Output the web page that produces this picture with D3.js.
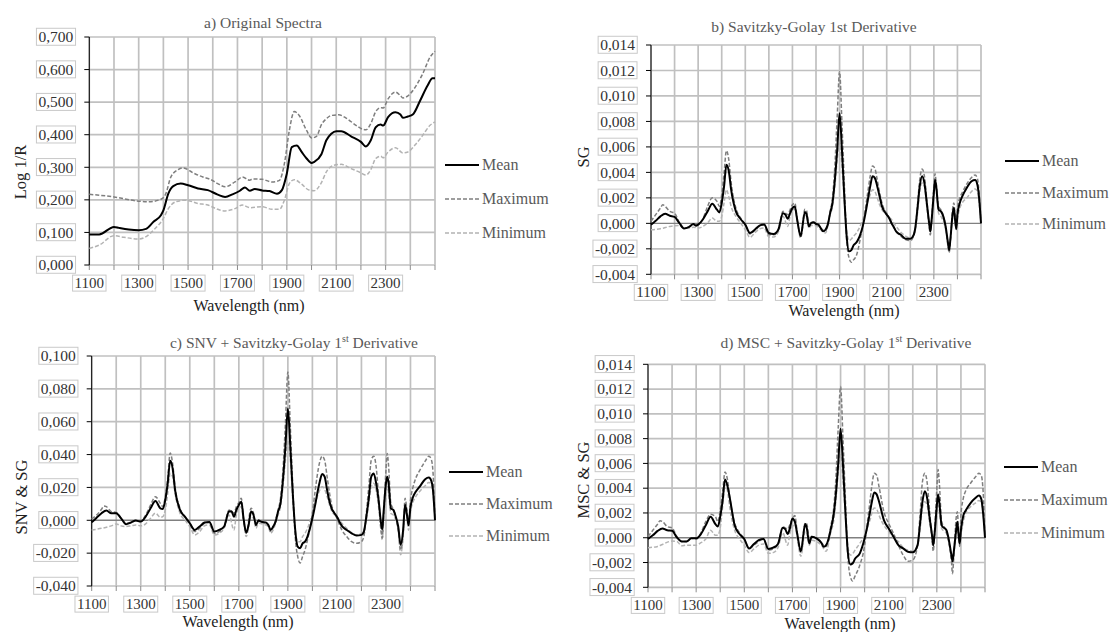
<!DOCTYPE html>
<html>
<head>
<meta charset="utf-8">
<script src="https://cdn.jsdelivr.net/npm/d3@7/dist/d3.min.js"></script>
<style>
  body { margin: 0; background: #fff; }
</style>
</head>
<body>
<div id="chart"></div>
<script>
// ---- data: [wavelength nm, value] ----
var gridNm = d3.range(1100, 2501, 100);
var xLabelNm = [1100, 1300, 1500, 1700, 1900, 2100, 2300];
var seriesNames = ["Mean", "Maximum", "Minimum"];

// a) Original spectra (log 1/R)
var aMean = [[1100,0.094],[1140,0.094],[1200,0.117],[1220,0.114],[1260,0.109],[1300,0.107],[1330,0.111],[1360,0.133],[1390,0.153],[1400,0.168],[1420,0.219],[1440,0.242],[1470,0.25],[1500,0.245],[1540,0.235],[1580,0.23],[1620,0.216],[1650,0.209],[1680,0.217],[1710,0.228],[1730,0.238],[1750,0.228],[1770,0.233],[1800,0.229],[1830,0.227],[1860,0.219],[1880,0.23],[1900,0.281],[1920,0.362],[1940,0.367],[1960,0.347],[1980,0.327],[2000,0.313],[2010,0.316],[2040,0.34],[2060,0.383],[2080,0.403],[2100,0.411],[2120,0.411],[2160,0.395],[2200,0.378],[2220,0.364],[2240,0.383],[2260,0.423],[2280,0.431],[2290,0.428],[2310,0.454],[2340,0.469],[2360,0.462],[2370,0.452],[2390,0.456],[2410,0.462],[2440,0.505],[2470,0.551],[2490,0.573],[2500,0.573]];
var aMax = [[1100,0.217],[1200,0.209],[1300,0.196],[1340,0.194],[1390,0.202],[1410,0.219],[1430,0.27],[1460,0.293],[1480,0.298],[1520,0.283],[1560,0.27],[1590,0.263],[1620,0.25],[1650,0.24],[1690,0.255],[1720,0.27],[1750,0.26],[1760,0.264],[1800,0.263],[1840,0.255],[1870,0.26],[1890,0.311],[1910,0.413],[1930,0.471],[1950,0.459],[1980,0.413],[2000,0.39],[2020,0.395],[2040,0.431],[2060,0.449],[2080,0.459],[2110,0.461],[2140,0.451],[2180,0.429],[2210,0.416],[2220,0.415],[2240,0.434],[2260,0.471],[2280,0.483],[2290,0.482],[2310,0.51],[2340,0.531],[2360,0.52],[2370,0.513],[2400,0.526],[2420,0.546],[2450,0.587],[2480,0.638],[2500,0.656]];
var aMin = [[1100,0.051],[1140,0.061],[1200,0.09],[1240,0.085],[1300,0.08],[1330,0.087],[1360,0.107],[1400,0.143],[1420,0.173],[1450,0.194],[1490,0.199],[1540,0.189],[1580,0.184],[1620,0.171],[1650,0.166],[1690,0.173],[1720,0.184],[1750,0.176],[1800,0.179],[1840,0.171],[1870,0.171],[1890,0.199],[1910,0.25],[1930,0.262],[1960,0.248],[1990,0.23],[2010,0.228],[2040,0.253],[2060,0.286],[2090,0.306],[2120,0.309],[2160,0.296],[2200,0.283],[2220,0.276],[2240,0.293],[2260,0.327],[2280,0.334],[2290,0.329],[2310,0.347],[2340,0.36],[2370,0.344],[2390,0.347],[2420,0.369],[2450,0.398],[2480,0.429],[2500,0.439]];

// b) Savitzky-Golay 1st derivative
var bMean = [[1100,-0.0001],[1120,0.0002],[1140,0.00055],[1160,0.00076],[1180,0.0006],[1200,0.0005],[1220,0.00003],[1240,-0.0004],[1260,-0.0003],[1280,-0.00005],[1290,-0.00018],[1300,-0.0001],[1320,0.0003],[1340,0.00094],[1360,0.00154],[1380,0.00107],[1390,0.00086],[1400,0.0016],[1410,0.0029],[1420,0.0046],[1430,0.0041],[1440,0.00264],[1460,0.00094],[1480,0.00034],[1500,-0.0001],[1520,-0.00076],[1540,-0.0005],[1560,-0.00018],[1580,-0.0001],[1600,-0.00076],[1620,-0.00084],[1640,-0.0005],[1660,0.0008],[1670,0.00068],[1680,0.00037],[1690,0.0008],[1700,0.0012],[1710,0.00133],[1720,0.0003],[1735,-0.001],[1753,0.0009],[1760,0.0007],[1770,-0.00024],[1780,0.00003],[1790,0.00008],[1800,-0.00005],[1810,-0.0001],[1820,-0.00037],[1830,-0.00063],[1840,-0.0005],[1850,-0.0001],[1860,0.0008],[1870,0.0016],[1880,0.0034],[1890,0.0058],[1900,0.00865],[1910,0.0058],[1920,0.0021],[1930,-0.001],[1940,-0.0022],[1950,-0.0021],[1960,-0.0017],[1970,-0.00154],[1980,-0.00123],[1990,-0.00076],[2000,-0.0001],[2010,0.0008],[2020,0.00186],[2030,0.0029],[2040,0.0037],[2050,0.00355],[2060,0.0029],[2070,0.0021],[2080,0.00133],[2090,0.00094],[2100,0.00068],[2110,0.00042],[2120,0.00003],[2130,-0.0003],[2140,-0.00063],[2160,-0.0009],[2180,-0.0012],[2200,-0.0012],[2210,-0.00107],[2220,-0.0005],[2230,0.00107],[2240,0.0029],[2250,0.0037],[2260,0.00316],[2270,0.0016],[2280,0.00003],[2285,-0.00063],[2290,0.00016],[2300,0.0024],[2305,0.0034],[2310,0.0029],[2320,0.00107],[2330,0.00094],[2340,0.00055],[2350,-0.00024],[2360,-0.00154],[2365,-0.0021],[2370,-0.00128],[2380,0.0008],[2385,0.0012],[2390,0.0003],[2395,-0.00044],[2400,0.00068],[2410,0.0016],[2420,0.0021],[2440,0.0028],[2460,0.0033],[2475,0.0034],[2485,0.003],[2492,0.002],[2500,0]];
var bMax = [[1100,0.00016],[1120,0.00068],[1140,0.0012],[1150,0.00146],[1160,0.00133],[1180,0.00094],[1200,0.0008],[1220,0.00008],[1240,-0.00037],[1260,-0.0003],[1280,-0.00005],[1300,-0.0001],[1320,0.00034],[1340,0.00133],[1360,0.002],[1380,0.00172],[1390,0.00133],[1400,0.00225],[1410,0.00395],[1420,0.0057],[1430,0.005],[1440,0.0032],[1460,0.0012],[1480,0.00042],[1500,-0.0001],[1520,-0.00084],[1540,-0.00055],[1560,-0.00024],[1580,-0.0001],[1600,-0.0009],[1620,-0.0009],[1640,-0.0005],[1660,0.00094],[1680,0.00068],[1690,0.00107],[1700,0.00146],[1710,0.0016],[1720,0.00042],[1735,-0.00115],[1753,0.0011],[1760,0.001],[1770,-0.0001],[1780,0.00008],[1800,0.00003],[1820,-0.00037],[1840,-0.00063],[1850,-0.0001],[1860,0.00094],[1870,0.002],[1880,0.0045],[1890,0.0084],[1900,0.0119],[1910,0.0079],[1920,0.0032],[1930,-0.00128],[1940,-0.0027],[1950,-0.00306],[1960,-0.00285],[1970,-0.0026],[1980,-0.00193],[1990,-0.001],[2000,-0.0001],[2010,0.0012],[2020,0.0025],[2030,0.0037],[2040,0.0045],[2050,0.0043],[2060,0.0034],[2070,0.0024],[2080,0.0016],[2090,0.00107],[2100,0.0008],[2120,0.00008],[2140,-0.00063],[2160,-0.001],[2180,-0.00128],[2200,-0.00136],[2220,-0.00063],[2230,0.00133],[2240,0.0034],[2250,0.00426],[2260,0.0037],[2270,0.00186],[2280,-0.0001],[2285,-0.0009],[2290,0.00016],[2300,0.0029],[2305,0.0039],[2310,0.00316],[2320,0.00133],[2330,0.00107],[2340,0.0006],[2350,-0.00037],[2360,-0.0018],[2365,-0.0023],[2370,-0.0014],[2380,0.0012],[2385,0.0016],[2390,0.00055],[2395,-0.00037],[2400,0.0012],[2410,0.002],[2420,0.0024],[2440,0.0031],[2460,0.0036],[2475,0.0038],[2485,0.0035],[2492,0.0024],[2500,0]];
var bMin = [[1100,-0.0005],[1140,-0.00042],[1180,-0.00024],[1200,-0.00018],[1220,-0.00016],[1240,-0.00037],[1260,-0.00037],[1280,-0.0003],[1300,-0.00037],[1320,-0.00024],[1340,0.00003],[1360,0.00042],[1380,0.00016],[1390,0.00016],[1400,0.00055],[1410,0.0016],[1420,0.00264],[1430,0.0021],[1440,0.00133],[1460,0.00055],[1480,0.00003],[1500,-0.0005],[1520,-0.0011],[1540,-0.00076],[1560,-0.00044],[1580,-0.00037],[1600,-0.00107],[1620,-0.00107],[1640,-0.0007],[1660,0.00055],[1680,-0.00024],[1690,0.00055],[1700,0.00107],[1710,0.00112],[1720,0.00016],[1735,-0.001],[1753,0.0006],[1760,0.00055],[1770,-0.00037],[1780,-0.00016],[1800,-0.00018],[1820,-0.0005],[1840,-0.00076],[1860,0.00068],[1870,0.00133],[1880,0.0029],[1890,0.005],[1900,0.0063],[1910,0.0045],[1920,0.00186],[1930,-0.0005],[1940,-0.00136],[1950,-0.00123],[1960,-0.001],[1970,-0.0008],[1980,-0.0005],[1990,-0.0001],[2000,0.00042],[2010,0.00107],[2020,0.00173],[2030,0.00225],[2040,0.00264],[2050,0.0025],[2060,0.002],[2070,0.00146],[2080,0.00107],[2100,0.00068],[2120,0.0003],[2140,-0.00024],[2160,-0.0007],[2180,-0.001],[2200,-0.00115],[2220,-0.00063],[2230,0.00068],[2240,0.0025],[2250,0.00316],[2260,0.0029],[2270,0.00133],[2280,-0.00024],[2285,-0.0009],[2290,0.00003],[2300,0.0021],[2305,0.003],[2310,0.00264],[2320,0.0008],[2330,0.00055],[2340,0.00016],[2350,-0.0005],[2360,-0.00154],[2365,-0.0022],[2370,-0.00128],[2380,0.00042],[2385,0.0008],[2390,0.00008],[2395,-0.0005],[2400,0.0003],[2410,0.0012],[2420,0.0016],[2440,0.002],[2460,0.0025],[2475,0.0027],[2485,0.0025],[2492,0.0016],[2500,0]];

// c) SNV + Savitzky-Golay 1st derivative
var cMean = [[1100,-0.0012],[1120,0.0016],[1140,0.0043],[1160,0.0059],[1180,0.0043],[1200,0.0043],[1220,0.0012],[1240,-0.0024],[1260,-0.0014],[1280,-0.0002],[1300,-0.0008],[1320,0.0022],[1340,0.0073],[1360,0.0117],[1380,0.0073],[1390,0.0069],[1400,0.0123],[1410,0.0225],[1420,0.0362],[1430,0.0316],[1440,0.0184],[1460,0.0063],[1480,0.0022],[1500,-0.0018],[1520,-0.0059],[1540,-0.0038],[1560,-0.0014],[1580,-0.001],[1600,-0.0069],[1620,-0.0059],[1640,-0.0038],[1660,0.0053],[1670,0.0055],[1680,0.0022],[1690,0.0063],[1700,0.0093],[1710,0.0113],[1720,0.0002],[1730,-0.0075],[1740,-0.0028],[1750,0.0053],[1760,0.0032],[1770,-0.0028],[1780,-0.0002],[1790,-0.0008],[1800,-0.0012],[1810,-0.0014],[1820,-0.0028],[1830,-0.0059],[1840,-0.0038],[1850,-0.0008],[1860,0.0053],[1870,0.0103],[1880,0.0245],[1890,0.0447],[1900,0.068],[1910,0.0447],[1920,0.0164],[1930,-0.0059],[1940,-0.016],[1950,-0.017],[1960,-0.014],[1970,-0.013],[1980,-0.0099],[1990,-0.0049],[2000,0.0012],[2010,0.0083],[2020,0.0164],[2030,0.0235],[2040,0.0281],[2050,0.0265],[2060,0.0184],[2070,0.0113],[2080,0.0067],[2090,0.0043],[2100,0.0022],[2110,-0.0008],[2120,-0.0034],[2140,-0.0059],[2160,-0.0079],[2180,-0.0093],[2200,-0.0089],[2210,-0.0069],[2220,0.0022],[2230,0.0134],[2240,0.0265],[2250,0.0285],[2260,0.0225],[2270,0.0123],[2280,-0.0018],[2285,-0.0055],[2290,0.0043],[2300,0.0225],[2305,0.0265],[2310,0.0235],[2320,0.0073],[2330,0.0063],[2340,0.0022],[2350,-0.0038],[2360,-0.015],[2370,-0.0059],[2378,0.0095],[2385,0.004],[2392,-0.003],[2400,0.008],[2410,0.014],[2420,0.017],[2440,0.021],[2460,0.025],[2475,0.026],[2485,0.024],[2492,0.018],[2500,0]];
var cMax = [[1100,0.0008],[1120,0.0032],[1140,0.0067],[1150,0.0087],[1160,0.0083],[1180,0.0053],[1200,0.0047],[1220,0.0012],[1240,-0.0018],[1260,-0.0012],[1280,-0.0002],[1300,-0.0004],[1320,0.0032],[1340,0.0093],[1360,0.0144],[1380,0.0103],[1390,0.0083],[1400,0.0144],[1410,0.0255],[1420,0.041],[1430,0.0346],[1440,0.0204],[1460,0.0073],[1480,0.0022],[1500,-0.0018],[1520,-0.0069],[1540,-0.0049],[1560,-0.0018],[1580,-0.0012],[1600,-0.0079],[1620,-0.0069],[1640,-0.0038],[1660,0.0063],[1680,0.0043],[1690,0.0083],[1700,0.0107],[1710,0.0134],[1720,0.0002],[1730,-0.0079],[1750,0.0073],[1760,0.0043],[1770,-0.0032],[1780,0.0002],[1800,-0.0008],[1820,-0.0028],[1830,-0.0069],[1840,-0.0043],[1860,0.0063],[1870,0.0134],[1880,0.0306],[1890,0.0589],[1900,0.0903],[1910,0.0569],[1920,0.0204],[1930,-0.0099],[1940,-0.022],[1950,-0.026],[1960,-0.022],[1970,-0.018],[1980,-0.0119],[1990,-0.0049],[2000,0.0043],[2010,0.0164],[2020,0.0275],[2030,0.0356],[2040,0.039],[2050,0.0366],[2060,0.0265],[2070,0.0164],[2080,0.0083],[2090,0.0043],[2100,0.0012],[2120,-0.0059],[2140,-0.0099],[2160,-0.013],[2180,-0.014],[2200,-0.013],[2210,-0.0099],[2220,0.0043],[2230,0.0204],[2240,0.0366],[2250,0.039],[2260,0.0326],[2270,0.0144],[2280,-0.0059],[2285,-0.0109],[2290,0.0022],[2300,0.0306],[2305,0.0407],[2310,0.0346],[2320,0.0103],[2330,0.0067],[2340,0.0022],[2350,-0.0059],[2360,-0.018],[2370,-0.0089],[2378,0.0134],[2385,0.007],[2392,-0.003],[2400,0.012],[2410,0.02],[2420,0.025],[2440,0.031],[2460,0.036],[2475,0.039],[2485,0.037],[2492,0.029],[2500,0]];
var cMin = [[1100,-0.0059],[1140,-0.0049],[1180,-0.0034],[1200,-0.0022],[1220,-0.0034],[1240,-0.0038],[1260,-0.0034],[1280,-0.0028],[1300,-0.0034],[1320,-0.0022],[1340,0.0012],[1360,0.0043],[1380,0.0018],[1390,0.0022],[1400,0.0063],[1410,0.0164],[1420,0.0285],[1430,0.0265],[1440,0.0164],[1460,0.0043],[1480,0.0002],[1500,-0.0038],[1520,-0.0089],[1540,-0.0069],[1560,-0.0034],[1580,-0.0028],[1600,-0.0089],[1620,-0.0079],[1640,-0.0049],[1660,0.0032],[1680,-0.0059],[1690,0.0032],[1700,0.0073],[1710,0.0083],[1720,-0.0018],[1730,-0.0099],[1750,0.0022],[1760,0.0012],[1770,-0.0049],[1780,-0.0018],[1800,-0.0024],[1820,-0.0038],[1830,-0.0079],[1840,-0.0059],[1860,0.0032],[1870,0.0083],[1880,0.0204],[1890,0.0366],[1900,0.0488],[1910,0.0366],[1920,0.0123],[1930,-0.0059],[1940,-0.013],[1950,-0.013],[1960,-0.0099],[1970,-0.0079],[1980,-0.0049],[1990,-0.0008],[2000,0.0043],[2010,0.0093],[2020,0.0144],[2030,0.0184],[2040,0.0204],[2050,0.0188],[2060,0.0144],[2070,0.0093],[2080,0.0053],[2100,0.0022],[2120,-0.0018],[2140,-0.0049],[2160,-0.0075],[2180,-0.0089],[2200,-0.0079],[2210,-0.0059],[2220,0.0002],[2230,0.0103],[2240,0.0204],[2250,0.0225],[2260,0.0184],[2270,0.0083],[2280,-0.0069],[2285,-0.0119],[2290,-0.0018],[2300,0.0144],[2305,0.0204],[2310,0.0174],[2320,0.0043],[2330,0.0032],[2340,0.0002],[2350,-0.0059],[2360,-0.021],[2370,-0.0099],[2378,0.0063],[2385,0.002],[2392,-0.006],[2400,0.005],[2410,0.011],[2420,0.014],[2440,0.018],[2460,0.021],[2475,0.023],[2485,0.022],[2492,0.016],[2500,0]];

// d) MSC + Savitzky-Golay 1st derivative
var dMean = [[1100,-0.0001],[1120,0.0002],[1140,0.00055],[1160,0.00075],[1180,0.0006],[1200,0.00056],[1220,0.00003],[1240,-0.0003],[1260,-0.0003],[1280,-0.00005],[1300,-0.00005],[1320,0.0003],[1340,0.001],[1360,0.0017],[1380,0.0011],[1390,0.0009],[1400,0.0017],[1410,0.003],[1420,0.0047],[1430,0.0042],[1440,0.0032],[1460,0.001],[1480,0.0003],[1500,-0.0001],[1520,-0.00086],[1540,-0.0005],[1560,-0.0002],[1580,-0.0001],[1600,-0.0009],[1620,-0.0008],[1640,-0.0005],[1660,0.0008],[1670,0.0007],[1680,0.0003],[1690,0.0008],[1700,0.00156],[1710,0.0013],[1720,0.0003],[1735,-0.0011],[1753,0.0011],[1760,0.00075],[1770,-0.00046],[1780,0.00008],[1800,-0.00005],[1820,-0.0004],[1830,-0.00073],[1840,-0.0006],[1850,-0.0001],[1860,0.00075],[1870,0.0017],[1880,0.0034],[1890,0.0059],[1900,0.0088],[1910,0.0059],[1920,0.0021],[1930,-0.00113],[1940,-0.00215],[1950,-0.00207],[1960,-0.0017],[1980,-0.00126],[2000,-0.00005],[2010,0.0008],[2020,0.00183],[2030,0.0029],[2040,0.00366],[2050,0.0035],[2060,0.0029],[2080,0.00142],[2100,0.00075],[2120,0.00008],[2140,-0.0006],[2160,-0.00086],[2180,-0.00113],[2200,-0.00118],[2220,-0.0006],[2230,0.0011],[2240,0.0029],[2250,0.00376],[2260,0.00317],[2270,0.0016],[2280,0.0002],[2285,-0.0006],[2290,0.0002],[2300,0.0026],[2305,0.0035],[2310,0.0029],[2320,0.001],[2340,0.0006],[2350,-0.0002],[2360,-0.00135],[2365,-0.0019],[2370,-0.0012],[2380,0.0006],[2385,0.0013],[2390,0.0003],[2395,-0.00046],[2400,0.0006],[2410,0.0018],[2420,0.0022],[2440,0.0028],[2460,0.0032],[2475,0.0034],[2485,0.0031],[2492,0.002],[2500,0]];
var dMax = [[1100,0.0001],[1120,0.0006],[1140,0.0011],[1150,0.00137],[1160,0.0013],[1180,0.0009],[1200,0.0008],[1220,0.0001],[1240,-0.0003],[1260,-0.0003],[1280,-0.00005],[1300,-0.0001],[1320,0.0004],[1340,0.0013],[1360,0.0019],[1380,0.0017],[1390,0.0013],[1400,0.0022],[1410,0.0037],[1420,0.0053],[1430,0.0047],[1440,0.0032],[1460,0.0012],[1480,0.0004],[1500,-0.0001],[1520,-0.0009],[1540,-0.0006],[1560,-0.0003],[1580,-0.0001],[1600,-0.001],[1620,-0.0009],[1640,-0.0005],[1660,0.0009],[1680,0.0007],[1690,0.0011],[1700,0.0015],[1710,0.0018],[1720,0.0004],[1735,-0.0012],[1753,0.0012],[1760,0.0011],[1770,-0.0001],[1780,0.0001],[1800,0],[1820,-0.0004],[1840,-0.0007],[1850,-0.0001],[1860,0.001],[1870,0.0021],[1880,0.0046],[1890,0.0088],[1900,0.0122],[1910,0.008],[1920,0.0032],[1930,-0.0014],[1940,-0.0031],[1950,-0.0035],[1960,-0.0031],[1980,-0.0022],[2000,-0.0006],[2010,0.001],[2020,0.0026],[2030,0.0042],[2040,0.0052],[2050,0.00505],[2060,0.0041],[2080,0.0021],[2100,0.00115],[2120,0.00035],[2140,-0.0006],[2160,-0.0014],[2180,-0.0019],[2200,-0.0018],[2220,-0.0006],[2230,0.0018],[2240,0.0045],[2250,0.0052],[2260,0.0044],[2270,0.0021],[2280,0],[2285,-0.0011],[2290,0.0003],[2300,0.004],[2305,0.0055],[2310,0.0045],[2320,0.0013],[2340,0.0005],[2350,-0.0004],[2360,-0.0017],[2365,-0.0029],[2370,-0.0017],[2380,0.00156],[2385,0.0021],[2390,0.0006],[2395,-0.0007],[2400,0.0018],[2410,0.0032],[2420,0.0038],[2440,0.0044],[2460,0.0049],[2475,0.0052],[2485,0.005],[2492,0.0038],[2500,0]];
var dMin = [[1100,-0.0008],[1140,-0.0007],[1160,-0.00054],[1200,-0.00027],[1220,-0.0003],[1240,-0.00065],[1260,-0.0006],[1300,-0.0006],[1320,-0.0004],[1340,-0.0001],[1360,0.0006],[1380,0.0002],[1390,0.0002],[1400,0.0008],[1410,0.0025],[1420,0.0043],[1430,0.0038],[1440,0.0024],[1460,0.0006],[1480,-0.0001],[1500,-0.0006],[1520,-0.0012],[1540,-0.0009],[1560,-0.0006],[1580,-0.0005],[1600,-0.00126],[1620,-0.0012],[1640,-0.0008],[1660,0.0004],[1680,-0.0006],[1690,0.0004],[1700,0.0009],[1710,0.0011],[1720,0],[1735,-0.0015],[1753,0.0005],[1760,0.0004],[1770,-0.0006],[1780,-0.0002],[1800,-0.0003],[1820,-0.0006],[1840,-0.0011],[1860,0.0005],[1870,0.0012],[1880,0.0029],[1890,0.0052],[1900,0.0067],[1910,0.0046],[1920,0.0018],[1930,-0.0006],[1940,-0.0014],[1950,-0.0013],[1960,-0.001],[1980,-0.00046],[2000,0.0002],[2020,0.0013],[2040,0.0024],[2050,0.0023],[2060,0.0018],[2080,0.001],[2100,0.0005],[2120,0],[2140,-0.0003],[2160,-0.0008],[2180,-0.001],[2200,-0.00107],[2220,-0.0006],[2230,0.0006],[2240,0.0024],[2250,0.0029],[2260,0.0026],[2270,0.0012],[2280,0],[2285,-0.00086],[2290,0],[2300,0.0018],[2305,0.0026],[2310,0.0022],[2320,0.00075],[2340,0.00035],[2350,-0.0003],[2360,-0.0017],[2365,-0.0022],[2370,-0.0013],[2380,0.0002],[2385,0.00075],[2390,0.0001],[2395,-0.0006],[2400,0.0002],[2410,0.0013],[2420,0.002],[2440,0.0025],[2460,0.0028],[2475,0.003],[2485,0.0028],[2492,0.002],[2500,0]];

// ---- setup ----
var serif = "'Liberation Serif', 'Times New Roman', serif";

var svg = d3.select("#chart").append("svg")
  .attr("width", 1110)
  .attr("height", 632)
  .style("font-family", serif);

var commaLocale = d3.formatLocale({decimal: ",", thousands: ".", grouping: [3], currency: ["", ""], minus: "-"});
var fmt = commaLocale.format(".3f");

var lineStyles = [
  {color: "#000000", width: 2, dash: null},
  {color: "#7f7f7f", width: 1.5, dash: "4,2"},
  {color: "#b3b3b3", width: 1.5, dash: "4,2"}
];

var panels = [
  {left: 89.3, right: 435, top: 37, bottom: 265, yDomain: [0, 0.7], yStep: 0.1,
   series: [aMean, aMax, aMin], title: ["a) Original Spectra"], titleX: 263, titleY: 23,
   yLabel: "Log 1/R", yLabelX: 20, yLabelY: 172, xTitleX: 249, xTitleY: 306,
   legX: 445, legY: [165, 199, 233]},
  {left: 651, right: 981, top: 45, bottom: 274.3, yDomain: [-0.004, 0.014], yStep: 0.002,
   series: [bMean, bMax, bMin], title: ["b) Savitzky-Golay 1st Derivative"], titleX: 814, titleY: 27,
   yLabel: "SG", yLabelX: 583, yLabelY: 157, xTitleX: 844, xTitleY: 311,
   legX: 1005, legY: [161, 193, 224]},
  {left: 91.7, right: 435, top: 356, bottom: 586, yDomain: [-0.04, 0.1], yStep: 0.02,
   series: [cMean, cMax, cMin], title: ["c) SNV + Savitzky-Golay 1", "st", " Derivative"], titleX: 294, titleY: 343,
   yLabel: "SNV & SG", yLabelX: 21, yLabelY: 497, xTitleX: 238, xTitleY: 622,
   legX: 449, legY: [472, 504, 536]},
  {left: 648, right: 985, top: 364.3, bottom: 587.3, yDomain: [-0.004, 0.014], yStep: 0.002,
   series: [dMean, dMax, dMin], title: ["d) MSC + Savitzky-Golay  1", "st", " Derivative"], titleX: 846, titleY: 343,
   yLabel: "MSC & SG", yLabelX: 583, yLabelY: 480, xTitleX: 840, xTitleY: 624,
   legX: 1004, legY: [467, 500, 533]}
];

// draw a gray box behind each label, like the scanned figure
function boxLabels(sel) {
  sel.each(function() {
    var b = this.getBBox();
    d3.select(this.parentNode).insert("rect", ":first-child")
      .attr("x", b.x - 2).attr("y", b.y)
      .attr("width", b.width + 4).attr("height", b.height)
      .attr("fill", "none").attr("stroke", "#c9c9c9").attr("stroke-width", 1);
  });
}

panels.forEach(function(p) {
  var x = d3.scaleLinear().domain([1100, 2500]).range([p.left, p.right]);
  var y = d3.scaleLinear().domain(p.yDomain).range([p.bottom, p.top]);
  var yTicks = d3.range(0, Math.round((p.yDomain[1] - p.yDomain[0]) / p.yStep) + 1)
    .map(function(i) { return +(p.yDomain[0] + i * p.yStep).toFixed(4); });

  var g = svg.append("g");

  // vertical gridlines
  g.selectAll(".vgrid").data(gridNm).enter().append("line")
    .attr("x1", d => x(d)).attr("x2", d => x(d))
    .attr("y1", p.top).attr("y2", p.bottom)
    .attr("stroke", "#c0c0c0").attr("stroke-width", 1.7);

  // horizontal gridlines (zero line darker)
  g.selectAll(".hgrid").data(yTicks).enter().append("line")
    .attr("x1", p.left).attr("x2", p.right)
    .attr("y1", d => y(d)).attr("y2", d => y(d))
    .attr("stroke", d => (d === 0 && p.yDomain[0] < 0) ? "#808080" : "#c0c0c0")
    .attr("stroke-width", d => (d === 0 && p.yDomain[0] < 0) ? 1.4 : 1.7);

  // bottom tick marks
  g.selectAll(".xtick").data(gridNm).enter().append("line")
    .attr("x1", d => x(d)).attr("x2", d => x(d))
    .attr("y1", p.bottom).attr("y2", p.bottom + 5)
    .attr("stroke", "#8c8c8c").attr("stroke-width", 1);

  // left axis
  g.append("line")
    .attr("x1", p.left).attr("x2", p.left)
    .attr("y1", p.top).attr("y2", p.bottom)
    .attr("stroke", "#000").attr("stroke-width", 1);
  g.selectAll(".ytick").data(yTicks).enter().append("line")
    .attr("x1", p.left - 5).attr("x2", p.left)
    .attr("y1", d => y(d)).attr("y2", d => y(d))
    .attr("stroke", "#000").attr("stroke-width", 1);

  // y tick labels
  var yl = g.append("g");
  yl.selectAll("text").data(yTicks).enter().append("text")
    .attr("x", p.left - 16).attr("y", d => y(d)).attr("dy", "0.34em")
    .attr("text-anchor", "end").attr("font-size", 15.5).attr("fill", "#333")
    .text(d => fmt(d));
  boxLabels(yl.selectAll("text"));

  // x tick labels
  var xl = g.append("g");
  xl.selectAll("text").data(xLabelNm).enter().append("text")
    .attr("x", d => x(d)).attr("y", p.bottom + 18).attr("dy", "0.34em")
    .attr("text-anchor", "middle").attr("font-size", 15).attr("fill", "#333")
    .text(d => d);
  boxLabels(xl.selectAll("text"));

  // series lines
  var line = d3.line()
    .x(d => x(d[0]))
    .y(d => y(d[1]))
    .curve(d3.curveMonotoneX);
  [2, 1, 0].forEach(function(i) {
    g.append("path")
      .datum(p.series[i])
      .attr("d", line)
      .attr("fill", "none")
      .attr("stroke", lineStyles[i].color)
      .attr("stroke-width", lineStyles[i].width)
      .attr("stroke-dasharray", lineStyles[i].dash);
  });

  // title (c and d carry a superscript "st")
  var t = g.append("text")
    .attr("x", p.titleX).attr("y", p.titleY).attr("dy", "0.34em")
    .attr("text-anchor", "middle").attr("font-size", 15.5).attr("fill", "#595959");
  t.append("tspan").text(p.title[0]);
  if (p.title.length > 1) {
    t.append("tspan").attr("font-size", 10).attr("dy", -6).text(p.title[1]);
    t.append("tspan").attr("dy", 6).text(p.title[2]);
  }

  // axis titles
  g.append("text")
    .attr("transform", `translate(${p.yLabelX}, ${p.yLabelY}) rotate(-90)`)
    .attr("dy", "0.34em").attr("text-anchor", "middle")
    .attr("font-size", 16.5).attr("fill", "#222")
    .text(p.yLabel);
  g.append("text")
    .attr("x", p.xTitleX).attr("y", p.xTitleY).attr("dy", "0.3em")
    .attr("text-anchor", "middle").attr("font-size", 16).attr("fill", "#222")
    .text("Wavelength (nm)");

  // legend
  seriesNames.forEach(function(name, i) {
    g.append("line")
      .attr("x1", p.legX).attr("x2", p.legX + 34)
      .attr("y1", p.legY[i]).attr("y2", p.legY[i])
      .attr("stroke", lineStyles[i].color)
      .attr("stroke-width", lineStyles[i].width)
      .attr("stroke-dasharray", lineStyles[i].dash);
    g.append("text")
      .attr("x", p.legX + 37).attr("y", p.legY[i]).attr("dy", "0.34em")
      .attr("font-size", 16).attr("fill", "#595959")
      .text(name);
  });
});
</script>
</body>
</html>
